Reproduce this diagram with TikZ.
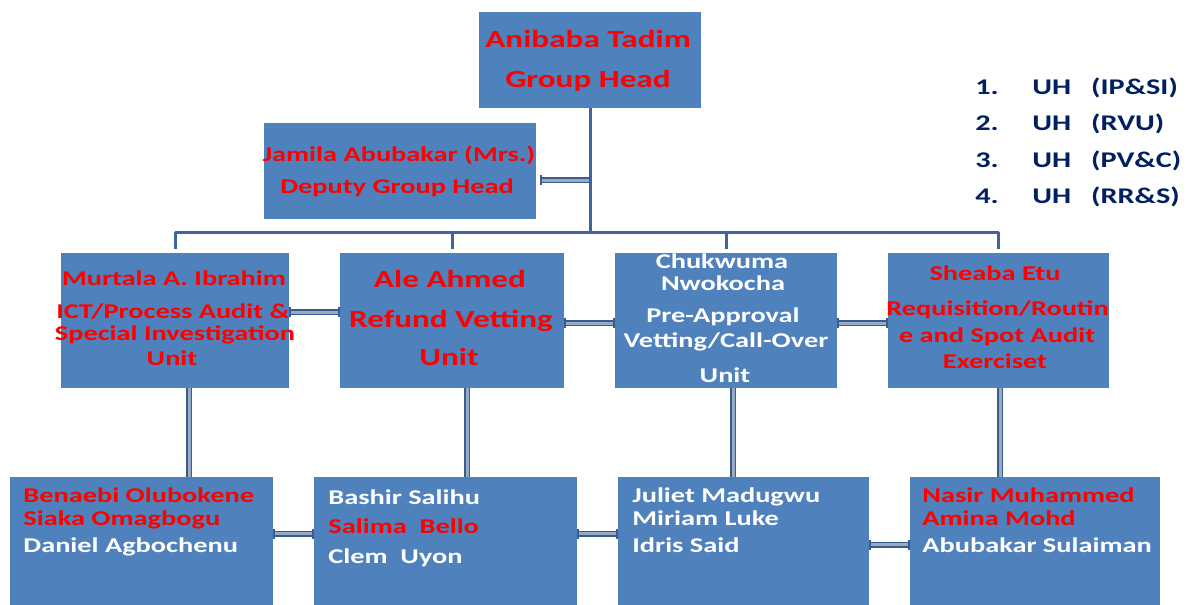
\documentclass[tikz,border=0pt]{standalone}
\usepackage{fontspec}
\setmainfont{Carlito}[FakeStretch=1.35]
\usetikzlibrary{arrows.meta}
\definecolor{boxblue}{RGB}{79,129,189}
\definecolor{treeblue}{RGB}{63,101,155}
\definecolor{linkdark}{RGB}{56,93,138}
\definecolor{linklight}{RGB}{150,170,198}
\definecolor{navy}{RGB}{0,32,96}
\definecolor{txtred}{RGB}{255,0,0}
\begin{document}
\begin{tikzpicture}[x=0.5pt,y=-0.5pt,
  box/.style={rectangle, fill=boxblue, draw=none, inner sep=0pt},
  lbl/.style={inner sep=0pt, font=\bfseries\fontsize{10.5pt}{12pt}\selectfont},
  big/.style={font=\bfseries\fontsize{12.3pt}{14pt}\selectfont},
  leg/.style={inner sep=0pt, text=navy, anchor=base west, font=\bfseries\fontsize{11.2pt}{13pt}\selectfont},
  rd/.style={text=txtred}, wh/.style={text=white},
  tree/.style={draw=treeblue, line width=1.5pt},
  link/.style={draw=linkdark, line width=0.75pt, double=linklight, double distance=1.5pt},
  barred/.style={{Bar[width=5pt]}-{Bar[width=5pt]}}
]
\useasboundingbox (0,0) rectangle (1191,605);

% boxes
\node[box, minimum width=111pt, minimum height=48pt] (gh) at (590,60) {};
\node[box, minimum width=136pt, minimum height=48pt] (dep) at (400,171) {};
\node[box, minimum width=114pt, minimum height=67.5pt] (m1) at (175,320.5) {};
\node[box, minimum width=112pt, minimum height=67.5pt] (m2) at (452,320.5) {};
\node[box, minimum width=111pt, minimum height=67.5pt] (m3) at (726,320.5) {};
\node[box, minimum width=110.5pt, minimum height=67.5pt] (m4) at (998.5,320.5) {};
\node[box, minimum width=131.5pt, minimum height=64pt] (b1) at (141.5,541) {};
\node[box, minimum width=131.5pt, minimum height=64pt] (b2) at (445.5,541) {};
\node[box, minimum width=125.5pt, minimum height=64pt] (b3) at (743.5,541) {};
\node[box, minimum width=125pt, minimum height=64pt] (b4) at (1035,541) {};

% tree connectors
\coordinate (bus) at (590,232);
\draw[tree] (gh.south) -- (gh.south |- bus);
\draw[tree] (m1.north |- bus) -- (m4.north |- bus);
\draw[tree] (m1.north |- bus) -- ([yshift=2pt]m1.north);
\draw[tree] (m2.north |- bus) -- ([yshift=2pt]m2.north);
\draw[tree] (m3.north |- bus) -- ([yshift=2pt]m3.north);
\draw[tree] (m4.north |- bus) -- ([yshift=2pt]m4.north);

% deputy link
\coordinate (dl) at ([yshift=-4.5pt,xshift=2pt]dep.east);
\draw[link, barred] (dl) -- (dl -| gh.south);

% middle links
\draw[link, barred] ([yshift=4.25pt]m1.east) -- ([yshift=4.25pt]m1.east -| m2.west);
\draw[link, barred] ([yshift=-1.25pt]m2.east) -- ([yshift=-1.25pt]m2.east -| m3.west);
\draw[link, barred] ([yshift=-1.25pt]m3.east) -- ([yshift=-1.25pt]m3.east -| m4.west);

% vertical links
\coordinate (v1) at ([xshift=7pt]m1.south);
\coordinate (v2) at ([xshift=7.5pt]m2.south);
\coordinate (v3) at ([xshift=3.5pt]m3.south);
\coordinate (v4) at ([xshift=0.75pt]m4.south);
\draw[link] (v1) -- (v1 |- b1.north);
\draw[link] (v2) -- (v2 |- b2.north);
\draw[link] (v3) -- (v3 |- b3.north);
\draw[link] (v4) -- (v4 |- b4.north);

% bottom links
\draw[link, barred] ([yshift=3.75pt]b1.east) -- ([yshift=3.75pt]b1.east -| b2.west);
\draw[link, barred] ([yshift=3.75pt]b2.east) -- ([yshift=3.75pt]b2.east -| b3.west);
\draw[link, barred] ([yshift=-1.75pt]b3.east) -- ([yshift=-1.75pt]b3.east -| b4.west);

% texts: group head
\node[lbl, big, rd, anchor=base] (gh1) at (588,47) {Anibaba Tadim};
\node[lbl, big, rd, anchor=base] (gh2) at (588,87) {Group Head};
% deputy
\node[lbl, rd, anchor=base] (dp1) at (399,162) {Jamila Abubakar (Mrs.)};
\node[lbl, rd, anchor=base] (dp2) at (397,193) {Deputy Group Head};
% m1
\node[lbl, rd, anchor=base] (ma1) at (174,285) {Murtala A. Ibrahim};
\node[lbl, rd, anchor=base] (ma2) at (173,318) {ICT/Process Audit \&};
\node[lbl, rd, anchor=base] (ma3) at (175,340) {Special Investigation};
\node[lbl, rd, anchor=base] (ma4) at (172,365) {Unit};
% m2
\node[lbl, big, rd, anchor=base] (mb1) at (450,287) {Ale Ahmed};
\node[lbl, big, rd, anchor=base] (mb2) at (451,327) {Refund Vetting};
\node[lbl, big, rd, anchor=base] (mb3) at (449,365) {Unit};
% m3
\node[lbl, wh, anchor=base] (mc1) at (722,268) {Chukwuma};
\node[lbl, wh, anchor=base] (mc2) at (723,290) {Nwokocha};
\node[lbl, wh, anchor=base] (mc3) at (723,322) {Pre-Approval};
\node[lbl, wh, anchor=base] (mc4) at (726,347) {Vetting/Call-Over};
\node[lbl, wh, anchor=base] (mc5) at (725,382) {Unit};
% m4
\node[lbl, rd, anchor=base] (md1) at (995,280) {Sheaba Etu};
\node[lbl, rd, anchor=base] (md2) at (997.5,315) {Requisition/Routin};
\node[lbl, rd, anchor=base] (md3) at (997,342) {e and Spot Audit};
\node[lbl, rd, anchor=base] (md4) at (995,368) {Exerciset};
% b1
\node[lbl, rd, anchor=base west] (ba1) at (23,502) {Benaebi Olubokene};
\node[lbl, rd, anchor=base west] (ba2) at (23,525) {Siaka Omagbogu};
\node[lbl, wh, anchor=base west] (ba3) at (23,552) {Daniel Agbochenu};
% b2
\node[lbl, wh, anchor=base west] (bb1) at (328,504) {Bashir Salihu};
\node[lbl, rd, anchor=base west] (bb2) at (328,533) {Salima\ \ Bello};
\node[lbl, wh, anchor=base west] (bb3) at (328,563) {Clem\ \ Uyon};
% b3
\node[lbl, wh, anchor=base west] (bc1) at (632,502) {Juliet Madugwu};
\node[lbl, wh, anchor=base west] (bc2) at (632,525) {Miriam Luke};
\node[lbl, wh, anchor=base west] (bc3) at (632,552) {Idris Said};
% b4
\node[lbl, rd, anchor=base west] (bd1) at (922,502) {Nasir Muhammed};
\node[lbl, rd, anchor=base west] (bd2) at (922,525) {Amina Mohd};
\node[lbl, wh, anchor=base west] (bd3) at (922,552) {Abubakar Sulaiman};

% legend
\node[leg] (lg1) at (975,94) {\makebox[28.5pt][l]{1.}UH\hspace{10pt}(IP\&SI)};
\node[leg] (lg2) at (975,130.5) {\makebox[28.5pt][l]{2.}UH\hspace{10pt}(RVU)};
\node[leg] (lg3) at (975,167) {\makebox[28.5pt][l]{3.}UH\hspace{10pt}(PV\&C)};
\node[leg] (lg4) at (975,203.5) {\makebox[28.5pt][l]{4.}UH\hspace{10pt}(RR\&S)};
\end{tikzpicture}
\end{document}
